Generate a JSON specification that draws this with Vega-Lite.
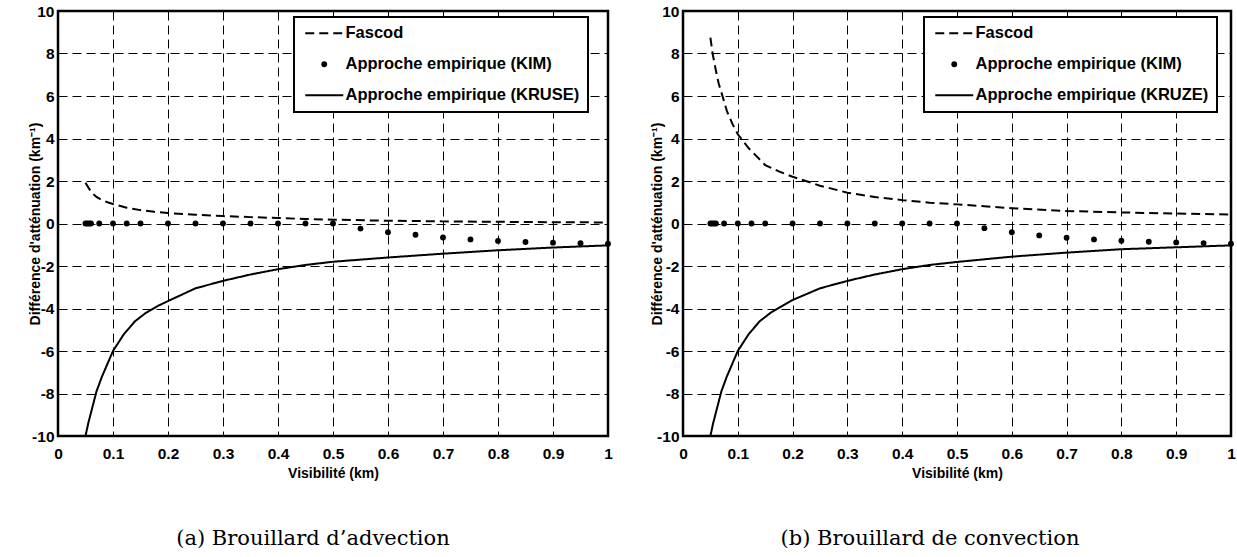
{
  "$schema": "https://vega.github.io/schema/vega-lite/v6.json",
  "background": "white",
  "padding": {"left": 26, "top": 2, "right": 0, "bottom": 0},
  "spacing": 34,
  "datasets": {
    "left": [
      {"x": 0.05, "y": 1.92, "s": "F"}, {"x": 0.055, "y": 1.7, "s": "F"}, {"x": 0.06, "y": 1.5, "s": "F"}, {"x": 0.065, "y": 1.36, "s": "F"},
      {"x": 0.07, "y": 1.25, "s": "F"}, {"x": 0.08, "y": 1.1, "s": "F"}, {"x": 0.09, "y": 1.0, "s": "F"}, {"x": 0.1, "y": 0.92, "s": "F"},
      {"x": 0.125, "y": 0.74, "s": "F"}, {"x": 0.15, "y": 0.63, "s": "F"}, {"x": 0.175, "y": 0.55, "s": "F"}, {"x": 0.2, "y": 0.49, "s": "F"},
      {"x": 0.25, "y": 0.41, "s": "F"}, {"x": 0.3, "y": 0.35, "s": "F"}, {"x": 0.35, "y": 0.3, "s": "F"}, {"x": 0.4, "y": 0.26, "s": "F"},
      {"x": 0.45, "y": 0.21, "s": "F"}, {"x": 0.5, "y": 0.18, "s": "F"}, {"x": 0.6, "y": 0.13, "s": "F"}, {"x": 0.7, "y": 0.1, "s": "F"},
      {"x": 0.8, "y": 0.08, "s": "F"}, {"x": 0.9, "y": 0.06, "s": "F"}, {"x": 1.0, "y": 0.05, "s": "F"},
      {"x": 0.05, "y": 0, "s": "KIM"}, {"x": 0.0533, "y": 0, "s": "KIM"}, {"x": 0.0567, "y": 0, "s": "KIM"}, {"x": 0.06, "y": 0, "s": "KIM"},
      {"x": 0.075, "y": 0, "s": "KIM"}, {"x": 0.1, "y": 0, "s": "KIM"}, {"x": 0.125, "y": 0, "s": "KIM"}, {"x": 0.15, "y": 0, "s": "KIM"},
      {"x": 0.2, "y": 0, "s": "KIM"}, {"x": 0.25, "y": 0, "s": "KIM"}, {"x": 0.3, "y": 0, "s": "KIM"}, {"x": 0.35, "y": 0, "s": "KIM"},
      {"x": 0.4, "y": 0, "s": "KIM"}, {"x": 0.45, "y": 0, "s": "KIM"}, {"x": 0.5, "y": 0, "s": "KIM"}, {"x": 0.55, "y": -0.24, "s": "KIM"},
      {"x": 0.6, "y": -0.41, "s": "KIM"}, {"x": 0.65, "y": -0.53, "s": "KIM"}, {"x": 0.7, "y": -0.66, "s": "KIM"}, {"x": 0.75, "y": -0.75, "s": "KIM"},
      {"x": 0.8, "y": -0.82, "s": "KIM"}, {"x": 0.85, "y": -0.87, "s": "KIM"}, {"x": 0.9, "y": -0.9, "s": "KIM"}, {"x": 0.95, "y": -0.93, "s": "KIM"},
      {"x": 1.0, "y": -0.95, "s": "KIM"},
      {"x": 0.05, "y": -10.0, "s": "KR"}, {"x": 0.055, "y": -9.4, "s": "KR"}, {"x": 0.06, "y": -8.9, "s": "KR"}, {"x": 0.07, "y": -7.9, "s": "KR"},
      {"x": 0.08, "y": -7.2, "s": "KR"}, {"x": 0.09, "y": -6.6, "s": "KR"}, {"x": 0.1, "y": -6.0, "s": "KR"}, {"x": 0.12, "y": -5.2, "s": "KR"},
      {"x": 0.14, "y": -4.6, "s": "KR"}, {"x": 0.16, "y": -4.2, "s": "KR"}, {"x": 0.18, "y": -3.9, "s": "KR"}, {"x": 0.2, "y": -3.65, "s": "KR"},
      {"x": 0.25, "y": -3.05, "s": "KR"}, {"x": 0.3, "y": -2.7, "s": "KR"}, {"x": 0.35, "y": -2.4, "s": "KR"}, {"x": 0.4, "y": -2.15, "s": "KR"},
      {"x": 0.45, "y": -1.95, "s": "KR"}, {"x": 0.5, "y": -1.8, "s": "KR"}, {"x": 0.6, "y": -1.6, "s": "KR"}, {"x": 0.7, "y": -1.42, "s": "KR"},
      {"x": 0.8, "y": -1.26, "s": "KR"}, {"x": 0.9, "y": -1.13, "s": "KR"}, {"x": 1.0, "y": -1.03, "s": "KR"}
    ],
    "right": [
      {"x": 0.05, "y": 8.75, "s": "F"}, {"x": 0.054, "y": 8.0, "s": "F"}, {"x": 0.06, "y": 7.2, "s": "F"}, {"x": 0.065, "y": 6.6, "s": "F"},
      {"x": 0.072, "y": 6.0, "s": "F"}, {"x": 0.08, "y": 5.3, "s": "F"}, {"x": 0.09, "y": 4.7, "s": "F"}, {"x": 0.1, "y": 4.2, "s": "F"},
      {"x": 0.12, "y": 3.54, "s": "F"}, {"x": 0.15, "y": 2.75, "s": "F"}, {"x": 0.175, "y": 2.45, "s": "F"}, {"x": 0.2, "y": 2.2, "s": "F"},
      {"x": 0.25, "y": 1.78, "s": "F"}, {"x": 0.3, "y": 1.45, "s": "F"}, {"x": 0.35, "y": 1.25, "s": "F"}, {"x": 0.4, "y": 1.1, "s": "F"},
      {"x": 0.45, "y": 0.98, "s": "F"}, {"x": 0.5, "y": 0.9, "s": "F"}, {"x": 0.6, "y": 0.72, "s": "F"}, {"x": 0.7, "y": 0.59, "s": "F"},
      {"x": 0.8, "y": 0.52, "s": "F"}, {"x": 0.9, "y": 0.47, "s": "F"}, {"x": 1.0, "y": 0.42, "s": "F"},
      {"x": 0.05, "y": 0, "s": "KIM"}, {"x": 0.0533, "y": 0, "s": "KIM"}, {"x": 0.0567, "y": 0, "s": "KIM"}, {"x": 0.06, "y": 0, "s": "KIM"},
      {"x": 0.075, "y": 0, "s": "KIM"}, {"x": 0.1, "y": 0, "s": "KIM"}, {"x": 0.125, "y": 0, "s": "KIM"}, {"x": 0.15, "y": 0, "s": "KIM"},
      {"x": 0.2, "y": 0, "s": "KIM"}, {"x": 0.25, "y": 0, "s": "KIM"}, {"x": 0.3, "y": 0, "s": "KIM"}, {"x": 0.35, "y": 0, "s": "KIM"},
      {"x": 0.4, "y": 0, "s": "KIM"}, {"x": 0.45, "y": 0, "s": "KIM"}, {"x": 0.5, "y": 0, "s": "KIM"}, {"x": 0.55, "y": -0.22, "s": "KIM"},
      {"x": 0.6, "y": -0.41, "s": "KIM"}, {"x": 0.65, "y": -0.56, "s": "KIM"}, {"x": 0.7, "y": -0.67, "s": "KIM"}, {"x": 0.75, "y": -0.75, "s": "KIM"},
      {"x": 0.8, "y": -0.81, "s": "KIM"}, {"x": 0.85, "y": -0.86, "s": "KIM"}, {"x": 0.9, "y": -0.89, "s": "KIM"}, {"x": 0.95, "y": -0.92, "s": "KIM"},
      {"x": 1.0, "y": -0.95, "s": "KIM"},
      {"x": 0.05, "y": -10.0, "s": "KR"}, {"x": 0.055, "y": -9.4, "s": "KR"}, {"x": 0.06, "y": -8.9, "s": "KR"}, {"x": 0.07, "y": -7.9, "s": "KR"},
      {"x": 0.08, "y": -7.2, "s": "KR"}, {"x": 0.09, "y": -6.6, "s": "KR"}, {"x": 0.1, "y": -6.0, "s": "KR"}, {"x": 0.12, "y": -5.2, "s": "KR"},
      {"x": 0.14, "y": -4.6, "s": "KR"}, {"x": 0.16, "y": -4.2, "s": "KR"}, {"x": 0.18, "y": -3.9, "s": "KR"}, {"x": 0.2, "y": -3.6, "s": "KR"},
      {"x": 0.25, "y": -3.05, "s": "KR"}, {"x": 0.3, "y": -2.7, "s": "KR"}, {"x": 0.35, "y": -2.4, "s": "KR"}, {"x": 0.4, "y": -2.15, "s": "KR"},
      {"x": 0.45, "y": -1.95, "s": "KR"}, {"x": 0.5, "y": -1.81, "s": "KR"}, {"x": 0.6, "y": -1.56, "s": "KR"}, {"x": 0.7, "y": -1.37, "s": "KR"},
      {"x": 0.8, "y": -1.21, "s": "KR"}, {"x": 0.9, "y": -1.12, "s": "KR"}, {"x": 1.0, "y": -1.03, "s": "KR"}
    ]
  },
  "resolve": {"scale": {"strokeDash": "independent"}, "legend": {"strokeDash": "independent"}},
  "hconcat": [
    {
      "width": 550, "height": 425,
      "data": {"name": "left"},
      "title": {"text": "(a) Brouillard d’advection", "orient": "bottom", "anchor": "middle", "font": "DejaVu Serif", "fontSize": 21, "fontWeight": "normal", "color": "black", "offset": 47, "dx": -20},
      "encoding": {
        "x": {"field": "x", "type": "quantitative", "scale": {"domain": [0, 1], "nice": false, "zero": false},
              "axis": {"values": [0, 0.1, 0.2, 0.3, 0.4, 0.5, 0.6, 0.7, 0.8, 0.9, 1], "labelExpr": "datum.value + ''", "title": "Visibilité (km)"}},
        "y": {"field": "y", "type": "quantitative", "scale": {"domain": [-10, 10], "nice": false, "zero": false},
              "axis": {"values": [-10, -8, -6, -4, -2, 0, 2, 4, 6, 8, 10], "labelExpr": "datum.value + ''", "title": "Différence d'atténuation (km⁻¹)", "titleX": -19, "titleY": 212.5}}
      },
      "layer": [
        {
          "transform": [{"filter": "datum.s !== 'KIM'"}],
          "mark": {"type": "line", "color": "black", "strokeWidth": 2, "clip": true},
          "encoding": {
            "strokeDash": {"field": "s", "type": "nominal",
              "scale": {"domain": ["F", "KIM", "KR"], "range": [[9, 5], [1, 0], [1, 0]]},
              "legend": {"orient": "none", "legendX": 236, "legendY": 6,
                "labelExpr": "datum.value === 'F' ? 'Fascod' : datum.value === 'KIM' ? 'Approche empirique (KIM)' : 'Approche empirique (KRUSE)'",
                "encode": {
                  "symbols": {"update": {
                    "shape": {"signal": "datum.value === 'KIM' ? 'circle' : 'M-3.8,0H3.8'"},
                    "size": {"signal": "datum.value === 'KIM' ? 34 : 100"},
                    "fill": {"signal": "datum.value === 'KIM' ? 'black' : 'transparent'"},
                    "stroke": {"value": "black"},
                    "strokeDash": {"signal": "datum.value === 'F' ? [9, 5] : [1, 0]"},
                    "strokeWidth": {"signal": "datum.value === 'KIM' ? 0 : 2"},
                    "opacity": {"value": 1}
                  }},
                  "legend": {"update": {"strokeWidth": {"value": 2}}}
                }}}
          }
        },
        {
          "transform": [{"filter": "datum.s === 'KIM'"}],
          "mark": {"type": "point", "filled": true, "color": "black", "size": 34, "opacity": 1},
          "encoding": {}
        }
      ]
    },
    {
      "width": 548, "height": 425,
      "data": {"name": "right"},
      "title": {"text": "(b) Brouillard de convection", "orient": "bottom", "anchor": "middle", "font": "DejaVu Serif", "fontSize": 21, "fontWeight": "normal", "color": "black", "offset": 47, "dx": -27},
      "encoding": {
        "x": {"field": "x", "type": "quantitative", "scale": {"domain": [0, 1], "nice": false, "zero": false},
              "axis": {"values": [0, 0.1, 0.2, 0.3, 0.4, 0.5, 0.6, 0.7, 0.8, 0.9, 1], "labelExpr": "datum.value + ''", "title": "Visibilité (km)"}},
        "y": {"field": "y", "type": "quantitative", "scale": {"domain": [-10, 10], "nice": false, "zero": false},
              "axis": {"values": [-10, -8, -6, -4, -2, 0, 2, 4, 6, 8, 10], "labelExpr": "datum.value + ''", "title": "Différence d'atténuation (km⁻¹)", "titleX": -22, "titleY": 212.5}}
      },
      "layer": [
        {
          "transform": [{"filter": "datum.s !== 'KIM'"}],
          "mark": {"type": "line", "color": "black", "strokeWidth": 2, "clip": true},
          "encoding": {
            "strokeDash": {"field": "s", "type": "nominal",
              "scale": {"domain": ["F", "KIM", "KR"], "range": [[9, 5], [1, 0], [1, 0]]},
              "legend": {"orient": "none", "legendX": 241, "legendY": 6,
                "labelExpr": "datum.value === 'F' ? 'Fascod' : datum.value === 'KIM' ? 'Approche empirique (KIM)' : 'Approche empirique (KRUZE)'",
                "encode": {
                  "symbols": {"update": {
                    "shape": {"signal": "datum.value === 'KIM' ? 'circle' : 'M-3.8,0H3.8'"},
                    "size": {"signal": "datum.value === 'KIM' ? 34 : 100"},
                    "fill": {"signal": "datum.value === 'KIM' ? 'black' : 'transparent'"},
                    "stroke": {"value": "black"},
                    "strokeDash": {"signal": "datum.value === 'F' ? [9, 5] : [1, 0]"},
                    "strokeWidth": {"signal": "datum.value === 'KIM' ? 0 : 2"},
                    "opacity": {"value": 1}
                  }},
                  "legend": {"update": {"strokeWidth": {"value": 2}}}
                }}}
          }
        },
        {
          "transform": [{"filter": "datum.s === 'KIM'"}],
          "mark": {"type": "point", "filled": true, "color": "black", "size": 34, "opacity": 1},
          "encoding": {}
        }
      ]
    }
  ],
  "config": {
    "font": "Liberation Sans",
    "view": {"stroke": "black", "strokeWidth": 2.5},
    "axis": {
      "grid": true, "gridColor": "black", "gridDash": [9, 5], "gridWidth": 1, "gridOpacity": 1,
      "domain": false, "ticks": false, "tickSize": 0, "labelPadding": 4,
      "labelFont": "Liberation Sans", "labelFontWeight": 700, "labelFontSize": 15.5, "labelColor": "black",
      "labelFlush": false, "labelOverlap": false,
      "titleFont": "Liberation Sans", "titleFontWeight": "bold", "titleFontSize": 14, "titleColor": "black"
    },
    "axisX": {"labelPadding": 10, "titlePadding": 5},
    "axisY": {"titleBaseline": "alphabetic", "titleAngle": -90},
    "legend": {
      "title": null,
      "symbolType": "M-3.8,0H3.8", "symbolSize": 100, "symbolStrokeWidth": 2, "symbolStrokeColor": "black",
      "symbolOffset": 14, "labelOffset": 13,
      "labelFont": "Liberation Sans", "labelFontWeight": "bold", "labelFontSize": 16.5, "labelColor": "black", "labelLimit": 400,
      "rowPadding": 14, "padding": 8, "fillColor": "white", "strokeColor": "black",
      "symbolLimit": 0
    }
  }
}
